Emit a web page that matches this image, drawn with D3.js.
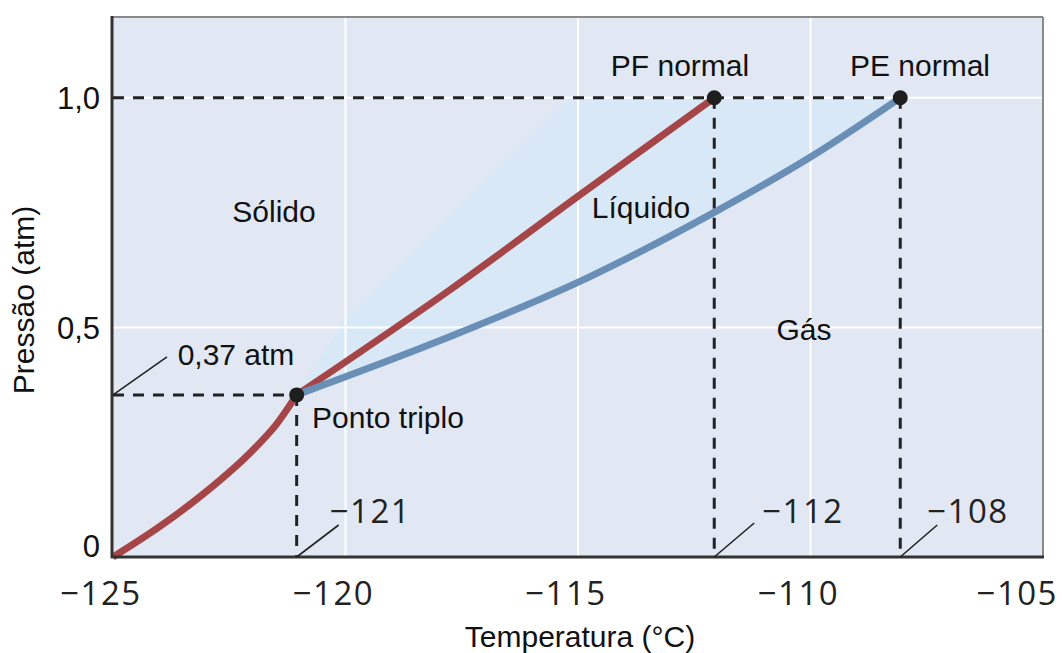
<!DOCTYPE html>
<html>
<head>
<meta charset="utf-8">
<script src="https://cdn.jsdelivr.net/npm/d3@7"></script>
<style>
  body { margin: 0; background: #fff; }
  text { font-family: "Liberation Sans", Arial, sans-serif; fill: #111; }
  .num { font-family: "Open Sans", sans-serif; fill: #222; letter-spacing: 1.5px; }
</style>
</head>
<body>
<div id="chart"></div>
<script>
const width = 1062;
const height = 653;
const plot = { left: 113, right: 1043, top: 17, bottom: 557 };

// axes
const tempTicks = [-125, -120, -115, -110, -105];
const pressTicks = [0, 0.5, 1.0];
const pressLabels = ["0", "0,5", "1,0"];
const gridTemps = [-120, -115, -110];
const gridPress = [0.5, 1.0];

// solid-gas (sublimation) line up to the triple point
const sublimT = [-125, -124, -123, -122, -121.5, -121.05];
const sublimP = [0, 0.066, 0.142, 0.232, 0.287, 0.353];
// solid-liquid line
const fusionT = [-121.05, -117.75, -114.9, -112.07];
const fusionP = [0.353, 0.582, 0.793, 1.0];
// liquid-gas line
const vaporT = [-121.05, -117.75, -114.9, -112.1, -110, -108.07];
const vaporP = [0.353, 0.48, 0.603, 0.749, 0.871, 1.0];
// left edge of the pale liquid wedge
const wedgeT = [-108.07, -115.2, -119.95];
const wedgeP = [1.0, 1.0, 0.527];

// marked points: triple point, PF normal, PE normal
const keyT = [-121.05, -112.07, -108.07];
const keyP = [0.353, 1.0, 1.0];

const svg = d3.select("#chart")
  .append("svg")
  .attr("width", width)
  .attr("height", height);

const x = d3.scaleLinear().domain([-125, -105]).range([plot.left, plot.right]);
const y = d3.scaleLinear().domain([0, 1.176]).range([plot.bottom, plot.top]);

const pts = (ts, ps) => ts.map((t, i) => [t, ps[i]]);
const curve = d3.line().x(d => x(d[0])).y(d => y(d[1])).curve(d3.curveMonotoneX);
const straight = d3.line().x(d => x(d[0])).y(d => y(d[1]));

// background
svg.append("rect")
  .attr("x", plot.left).attr("y", plot.top)
  .attr("width", plot.right - plot.left)
  .attr("height", plot.bottom - plot.top)
  .attr("fill", "#e1e8f4");

// pale wedge = vapour curve forward, then back along the top and left edge
const wedgePath = curve(pts(vaporT, vaporP)) + straight(pts(wedgeT, wedgeP)).replace(/^M/, "L") + "Z";
svg.append("path").attr("d", wedgePath).attr("fill", "#d9e8f7");

// white grid
svg.append("g")
  .selectAll("line")
  .data(gridTemps)
  .enter().append("line")
  .attr("x1", d => x(d)).attr("x2", d => x(d))
  .attr("y1", plot.top).attr("y2", plot.bottom)
  .attr("stroke", "#fff").attr("stroke-width", 2);
svg.append("g")
  .selectAll("line")
  .data(gridPress)
  .enter().append("line")
  .attr("y1", d => y(d)).attr("y2", d => y(d))
  .attr("x1", plot.left).attr("x2", plot.right)
  .attr("stroke", "#fff").attr("stroke-width", 2);

// frame: grey top/right
svg.append("line").attr("x1", plot.left).attr("x2", plot.right).attr("y1", plot.top).attr("y2", plot.top)
  .attr("stroke", "#8a8a8a").attr("stroke-width", 2);
svg.append("line").attr("x1", plot.right).attr("x2", plot.right).attr("y1", plot.top).attr("y2", plot.bottom)
  .attr("stroke", "#8a8a8a").attr("stroke-width", 2);

// dashed guides
const dashes = svg.append("g")
  .attr("stroke", "#222").attr("stroke-width", 3)
  .attr("stroke-dasharray", "11,9").attr("fill", "none");
dashes.append("line")
  .attr("x1", x(-125)).attr("x2", x(keyT[2]))
  .attr("y1", y(keyP[1])).attr("y2", y(keyP[1]));
dashes.append("line")
  .attr("x1", x(-125)).attr("x2", x(keyT[0]))
  .attr("y1", y(keyP[0])).attr("y2", y(keyP[0]));
dashes.selectAll("line.v")
  .data(keyT)
  .enter().append("line")
  .attr("x1", d => x(d)).attr("x2", d => x(d))
  .attr("y1", (d, i) => y(keyP[i])).attr("y2", y(0));

// phase lines
svg.append("path").attr("d", curve(pts(sublimT, sublimP)))
  .attr("fill", "none").attr("stroke", "#a54547").attr("stroke-width", 7);
svg.append("path").attr("d", curve(pts(fusionT, fusionP)))
  .attr("fill", "none").attr("stroke", "#a54547").attr("stroke-width", 7);
svg.append("path").attr("d", curve(pts(vaporT, vaporP)))
  .attr("fill", "none").attr("stroke", "#6a8fb7").attr("stroke-width", 7)
  .attr("stroke-linecap", "round");

svg.append("g")
  .selectAll("circle")
  .data(keyT)
  .enter().append("circle")
  .attr("cx", d => x(d)).attr("cy", (d, i) => y(keyP[i]))
  .attr("r", 7.5).attr("fill", "#1e1e1e");

// dark axis lines left/bottom
svg.append("line").attr("x1", plot.left - 1).attr("x2", plot.left - 1).attr("y1", plot.top - 1).attr("y2", plot.bottom + 1)
  .attr("stroke", "#333").attr("stroke-width", 3);
svg.append("line").attr("x1", plot.left - 2).attr("x2", plot.right + 1).attr("y1", plot.bottom).attr("y2", plot.bottom)
  .attr("stroke", "#333").attr("stroke-width", 3);

// tick labels
svg.append("g")
  .selectAll("text")
  .data(tempTicks)
  .enter().append("text")
  .attr("class", "num")
  .attr("x", (d, i) => i === tempTicks.length - 1 ? width - 4 : x(d) - 12)
  .attr("y", 605)
  .attr("text-anchor", (d, i) => i === tempTicks.length - 1 ? "end" : "middle")
  .style("font-size", "33px")
  .text(d => "\u2212" + Math.abs(d));

svg.append("g")
  .selectAll("text")
  .data(pressTicks)
  .enter().append("text")
  .attr("x", 100)
  .attr("y", d => y(d))
  .attr("dy", (d, i) => i === 0 ? "0" : "0.36em")
  .attr("text-anchor", "end")
  .style("font-size", "31px")
  .text((d, i) => pressLabels[i]);

// axis titles
svg.append("text")
  .attr("x", 580).attr("y", 647)
  .attr("text-anchor", "middle")
  .style("font-size", "30px")
  .text("Temperatura (°C)");
svg.append("text")
  .attr("transform", "translate(34,300) rotate(-90)")
  .attr("text-anchor", "middle")
  .style("font-size", "30px")
  .text("Pressão (atm)");

// region and point labels
const labels = [
  { text: "Sólido", x: 274, y: 222 },
  { text: "Líquido", x: 641, y: 218 },
  { text: "Gás", x: 804, y: 340 },
  { text: "PF normal", x: 680, y: 76 },
  { text: "PE normal", x: 920, y: 76 },
  { text: "Ponto triplo", x: 388, y: 428 },
  { text: "0,37 atm", x: 236, y: 365 }
];
svg.append("g")
  .selectAll("text")
  .data(labels)
  .enter().append("text")
  .attr("x", d => d.x).attr("y", d => d.y)
  .attr("text-anchor", "middle")
  .style("font-size", "30px")
  .text(d => d.text);

// leader lines with value callouts on the axis
const callouts = [
  { t: -125, p: keyP[0], dx: 54, dy: -38, label: null },
  { t: keyT[0], p: 0, dx: 42, dy: -32, label: "\u2212121", lx: 33 },
  { t: keyT[1], p: 0, dx: 40, dy: -34, label: "\u2212112", lx: 48 },
  { t: keyT[2], p: 0, dx: 37, dy: -32, label: "\u2212108", lx: 27 }
];
svg.append("g")
  .selectAll("line")
  .data(callouts)
  .enter().append("line")
  .attr("x1", d => x(d.t)).attr("y1", d => y(d.p))
  .attr("x2", d => x(d.t) + d.dx).attr("y2", d => y(d.p) + d.dy)
  .attr("stroke", "#222").attr("stroke-width", 1.6);
svg.append("g")
  .selectAll("text")
  .data(callouts.filter(d => d.label))
  .enter().append("text")
  .attr("class", "num")
  .attr("x", d => x(d.t) + d.lx)
  .attr("y", 523)
  .style("font-size", "33px")
  .text(d => d.label);
</script>
</body>
</html>
